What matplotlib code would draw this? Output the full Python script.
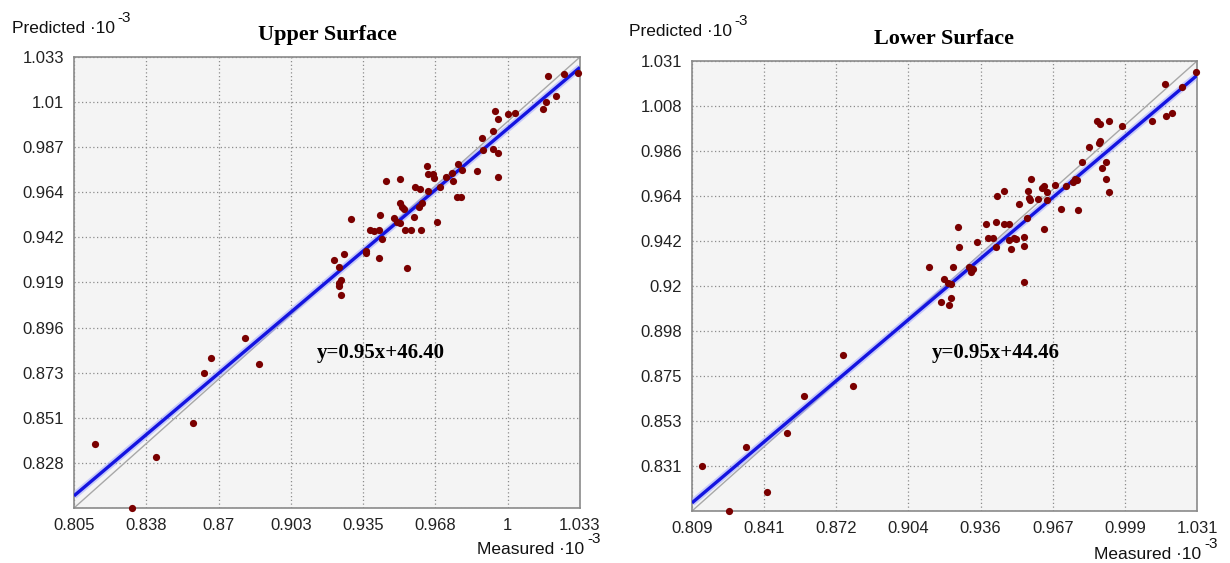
import numpy as np
import matplotlib
matplotlib.use("Agg")
from matplotlib import pyplot as plt

# Upper surface: measured vs predicted (x 10^-3)
upper_measured = [0.8145, 0.8310, 0.8421, 0.8585, 0.8636, 0.8669, 0.8819, 0.8884,
                  0.9639, 0.9647, 0.9666, 0.9672, 0.9455, 0.9520, 0.9725, 0.9752, 0.9756, 0.9782, 0.9797, 0.9865,
                  0.9587, 0.9609, 0.9647, 0.9699, 0.9777, 0.9794, 0.9519, 0.9527, 0.9537, 0.9617, 0.9605,
                  0.9297, 0.9430, 0.9493, 0.9504, 0.9519, 0.9582, 0.9684, 0.9384, 0.9402, 0.9423, 0.9439, 0.9543, 0.9567, 0.9612,
                  0.9366, 0.9364, 0.9265, 0.9220, 0.9245, 0.9423, 0.9550, 0.9252, 0.9245, 0.9245, 0.9252,
                  0.9887, 0.9894, 0.9939, 0.9962, 0.9937, 0.9947, 0.9962, 1.0007, 1.0037, 1.0165, 1.0177, 1.0222, 1.0185, 1.0259, 1.0320, 0.9962]
upper_predicted = [0.8374, 0.8048, 0.8306, 0.8481, 0.8734, 0.8808, 0.8909, 0.8776,
                   0.9780, 0.9738, 0.9738, 0.9717, 0.9705, 0.9713, 0.9725, 0.9742, 0.9703, 0.9787, 0.9759, 0.9755,
                   0.9674, 0.9663, 0.9654, 0.9674, 0.9624, 0.9624, 0.9590, 0.9573, 0.9560, 0.9590, 0.9570,
                   0.9511, 0.9530, 0.9515, 0.9497, 0.9489, 0.9520, 0.9496, 0.9455, 0.9449, 0.9455, 0.9411, 0.9454, 0.9454, 0.9454,
                   0.9351, 0.9338, 0.9336, 0.9304, 0.9270, 0.9312, 0.9262, 0.9203, 0.9186, 0.9174, 0.9127,
                   0.9922, 0.9860, 0.9863, 0.9846, 0.9956, 1.0057, 1.0015, 1.0040, 1.0048, 1.0066, 1.0104, 1.0133, 1.0234, 1.0244, 1.0251, 0.9722]

# Lower surface
lower_measured = [0.8135, 0.8253, 0.8326, 0.8420, 0.8506, 0.8581, 0.8755, 0.8799,
                  0.9133, 0.9185, 0.9221, 0.9229, 0.9199, 0.9217, 0.9227, 0.9236, 0.9309, 0.9324, 0.9317, 0.9551,
                  0.9258, 0.9265, 0.9342, 0.9382, 0.9426, 0.9463, 0.9485, 0.9393, 0.9412, 0.9426, 0.9485, 0.9507, 0.9514, 0.9492, 0.9551, 0.9551, 0.9561, 0.9637,
                  0.9529, 0.9463, 0.9429, 0.9566, 0.9580, 0.9573, 0.9576, 0.9610, 0.9627, 0.9637, 0.9652, 0.9649, 0.9686, 0.9734, 0.9712, 0.9786, 0.9774, 0.9781, 0.9766,
                  0.9806, 0.9835, 0.9879, 0.9884, 0.9910, 0.9894, 0.9909, 0.9923, 0.9872, 0.9884, 0.9923, 0.9982, 1.0114, 1.0172, 1.0201, 1.0169, 1.0245, 1.0305]
lower_predicted = [0.8314, 0.8088, 0.8404, 0.8182, 0.8476, 0.8657, 0.8861, 0.8707,
                   0.9295, 0.9123, 0.9106, 0.9142, 0.9233, 0.9213, 0.9210, 0.9295, 0.9292, 0.9282, 0.9268, 0.9221,
                   0.9491, 0.9392, 0.9419, 0.9507, 0.9516, 0.9507, 0.9507, 0.9435, 0.9438, 0.9391, 0.9427, 0.9435, 0.9432, 0.9384, 0.9440, 0.9399, 0.9534, 0.9483,
                   0.9604, 0.9670, 0.9646, 0.9670, 0.9728, 0.9636, 0.9624, 0.9629, 0.9682, 0.9695, 0.9662, 0.9624, 0.9698, 0.9695, 0.9580, 0.9573, 0.9726, 0.9723, 0.9715,
                   0.9810, 0.9884, 0.9904, 0.9915, 0.9810, 0.9784, 0.9728, 0.9662, 1.0016, 0.9999, 1.0016, 0.9991, 1.0016, 1.0039, 1.0055, 1.0195, 1.0183, 1.0256]

upper_xticks = ['0.805', '0.838', '0.87', '0.903', '0.935', '0.968', '1', '1.033']
upper_yticks = ['', '0.828', '0.851', '0.873', '0.896', '0.919', '0.942', '0.964', '0.987', '1.01', '1.033']
lower_xticks = ['0.809', '0.841', '0.872', '0.904', '0.936', '0.967', '0.999', '1.031']
lower_yticks = ['', '0.831', '0.853', '0.875', '0.898', '0.92', '0.942', '0.964', '0.986', '1.008', '1.031']

upper_fit = (0.95, 46.40)
lower_fit = (0.95, 44.46)

SANS = 'Liberation Sans'
SERIF = 'Liberation Serif'


def panel(fig, rect, mx, pr, lo, hi, xlabels, ylabels, fit, title, eq_pos):
    ax = fig.add_axes(rect)
    ax.set_facecolor('#f4f4f4')
    ax.set_xlim(lo, hi)
    ax.set_ylim(lo, hi)
    ax.set_xticks(np.linspace(lo, hi, len(xlabels)))
    ax.set_xticklabels(xlabels, fontfamily=SANS, fontsize=12, color='#222222')
    ax.set_yticks(np.linspace(lo, hi, len(ylabels)))
    ax.set_yticklabels(ylabels, fontfamily=SANS, fontsize=12, color='#222222')
    ax.tick_params(length=0, pad=7)
    ax.grid(True, color='#8c8c8c', linestyle=(0, (1, 2)), linewidth=0.9)
    ax.set_axisbelow(True)
    for s in ax.spines.values():
        s.set_color('#8a8a8a')
        s.set_linewidth(1.2)

    xs = np.array([lo, hi])
    ax.plot(xs, xs, color='#a8a8a8', lw=1.0, zorder=2)
    ys = fit[0] * xs + fit[1] / 1000.0
    ax.plot(xs, ys, color='#9aa0ff', lw=5, alpha=0.5, zorder=3, solid_capstyle='butt')
    ax.plot(xs, ys, color='#1414e0', lw=2.4, zorder=4, solid_capstyle='butt')
    ax.plot(mx, pr, 'o', color='#7a0000', markersize=5.2, markeredgewidth=0,
            zorder=5, clip_on=False)

    ax.set_title(title, fontfamily=SERIF, fontweight='bold', fontsize=16, pad=12)
    fig.text(eq_pos[0], eq_pos[1], 'y=%.2fx+%.2f' % fit, fontfamily=SERIF,
             fontweight='bold', fontsize=15, ha='center', va='center')
    return ax


def unit_label(fig, ax, x, y, word):
    t = fig.text(x, y, word + ' \u00b710', fontfamily=SANS, fontsize=12.5,
                 va='baseline', ha='left', color='#111111')
    ax.annotate('-3', xy=(1, 1), xycoords=t, xytext=(2, -3),
                textcoords='offset points', fontfamily=SANS, fontsize=11,
                va='bottom', ha='left', color='#111111',
                annotation_clip=False)


fig = plt.figure(figsize=(12.3, 5.63), dpi=100)
W, H = 1230.0, 563.0

ax1 = panel(fig, [74 / W, 1 - 508 / H, 506 / W, 451 / H], upper_measured, upper_predicted,
            0.805, 1.033, upper_xticks, upper_yticks, upper_fit, 'Upper Surface',
            (381 / W, 1 - 353 / H))
ax2 = panel(fig, [692 / W, 1 - 511 / H, 505 / W, 450 / H], lower_measured, lower_predicted,
            0.809, 1.031, lower_xticks, lower_yticks, lower_fit, 'Lower Surface',
            (996 / W, 1 - 353 / H))

unit_label(fig, ax1, 12 / W, 1 - 33 / H, 'Predicted')
unit_label(fig, ax2, 629 / W, 1 - 36 / H, 'Predicted')
unit_label(fig, ax1, 477 / W, 1 - 554 / H, 'Measured')
unit_label(fig, ax2, 1094 / W, 1 - 559 / H, 'Measured')

fig.savefig('out.png', dpi=100)
